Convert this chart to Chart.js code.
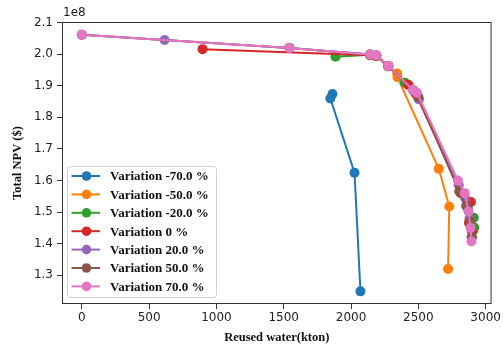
<!DOCTYPE html>
<html>
<head>
<meta charset="utf-8">
<script src="https://cdn.jsdelivr.net/npm/chart.js@4.4.0/dist/chart.umd.min.js"></script>
<style>
  html, body { margin: 0; padding: 0; background: #fff; }
</style>
</head>
<body>
<canvas id="npvChart" width="503" height="347"></canvas>
<script>
// Pareto fronts: reused water (kton) vs total NPV (x 1e8 $)
const seriesLabels = ['Variation -70.0 %', 'Variation -50.0 %', 'Variation -20.0 %', 'Variation 0 %',
                      'Variation 20.0 %', 'Variation 50.0 %', 'Variation 70.0 %'];
const seriesColors = ['#1f77b4', '#ff7f0e', '#2ca02c', '#d62728', '#9467bd', '#8c564b', '#e377c2'];

const waterM70 = [1862, 1846, 2026, 2070];
const npvM70   = [1.874, 1.860, 1.625, 1.249];

const waterM50 = [2142, 2186, 2277, 2343, 2345, 2652, 2730, 2721];
const npvM50   = [1.998, 1.995, 1.962, 1.939, 1.927, 1.637, 1.518, 1.320];

const waterM20 = [1885, 2142, 2186, 2277, 2400, 2500, 2815, 2870, 2912, 2916, 2906];
const npvM20   = [1.992, 1.998, 1.995, 1.962, 1.910, 1.860, 1.560, 1.510, 1.482, 1.451, 1.440];

const waterP0 = [897, 2142, 2186, 2277, 2426, 2480, 2820, 2891, 2876, 2898];
const npvP0   = [2.016, 1.997, 1.994, 1.962, 1.903, 1.875, 1.560, 1.532, 1.466, 1.439];

const waterP20 = [0, 615, 1542, 2142, 2186, 2277, 2461, 2505, 2800, 2849, 2880, 2895];
const npvP20   = [2.062, 2.045, 2.020, 1.999, 1.996, 1.963, 1.885, 1.857, 1.585, 1.543, 1.480, 1.420];

const waterP50 = [0, 1542, 2142, 2190, 2277, 2465, 2500, 2804, 2855, 2885, 2898];
const npvP50   = [2.062, 2.020, 1.999, 1.996, 1.963, 1.885, 1.865, 1.565, 1.520, 1.470, 1.420];

const waterP70 = [0, 1542, 2142, 2186, 2277, 2461, 2490, 2794, 2845, 2873, 2888, 2895];
const npvP70   = [2.062, 2.020, 1.999, 1.997, 1.963, 1.887, 1.878, 1.600, 1.560, 1.502, 1.450, 1.407];

const waterSeries = [waterM70, waterM50, waterM20, waterP0, waterP20, waterP50, waterP70];
const npvSeries   = [npvM70, npvM50, npvM20, npvP0, npvP20, npvP50, npvP70];

const waterTicks = [0, 500, 1000, 1500, 2000, 2500, 3000];
const npvTicks   = [1.3, 1.4, 1.5, 1.6, 1.7, 1.8, 1.9, 2.0, 2.1];

const datasets = seriesLabels.map((label, i) => ({
  label: label,
  data: waterSeries[i].map((x, k) => ({ x: x, y: npvSeries[i][k] })),
  borderColor: seriesColors[i],
  backgroundColor: seriesColors[i],
  borderWidth: 2,
  pointRadius: 5,
  pointBorderWidth: 0,
  showLine: true,
  // later series drawn on top, like the first-to-last plotting order
  order: seriesLabels.length - i,
}));

const serif = '"Liberation Serif", "Times New Roman", serif';

// axes frame, exponent label and the boxed legend in the lower left corner
const framePlugin = {
  id: 'frameLegend',
  afterDraw(chart) {
    const ctx = chart.ctx;
    const a = chart.chartArea;
    ctx.save();
    ctx.strokeStyle = '#333';
    ctx.lineWidth = 1;
    ctx.strokeRect(a.left + 0.5, a.top + 0.5, a.right - a.left - 1, a.bottom - a.top - 1);

    ctx.fillStyle = '#222';
    ctx.font = '12px "DejaVu Sans"';
    ctx.textBaseline = 'bottom';
    ctx.textAlign = 'left';
    ctx.fillText('1e8', a.left + 1, a.top - 3);

    const bx = a.left + 5, by = a.bottom - 138, bw = 149, bh = 131;
    ctx.fillStyle = 'rgba(255,255,255,0.85)';
    ctx.strokeStyle = '#d0d0d0';
    ctx.beginPath();
    ctx.roundRect(bx + 0.5, by + 0.5, bw, bh, 3);
    ctx.fill();
    ctx.stroke();

    ctx.font = 'bold 13px ' + serif;
    ctx.textBaseline = 'middle';
    seriesLabels.forEach((label, i) => {
      const yy = by + 10 + i * 18.4;
      ctx.strokeStyle = seriesColors[i];
      ctx.lineWidth = 2;
      ctx.beginPath();
      ctx.moveTo(bx + 4.5, yy);
      ctx.lineTo(bx + 33, yy);
      ctx.stroke();
      ctx.fillStyle = seriesColors[i];
      ctx.beginPath();
      ctx.arc(bx + 19.5, yy, 4.8, 0, Math.PI * 2);
      ctx.fill();
      ctx.fillStyle = '#111';
      ctx.fillText(label, bx + 43, yy + 1);
    });
    ctx.restore();
  }
};

new Chart(document.getElementById('npvChart'), {
  type: 'scatter',
  data: { datasets: datasets },
  options: {
    responsive: false,
    animation: false,
    layout: { padding: { top: 22, right: 7, left: 0, bottom: 0 } },
    plugins: {
      legend: { display: false },
      tooltip: { enabled: false },
    },
    scales: {
      x: {
        type: 'linear',
        min: -147,
        max: 3044,
        afterBuildTicks: axis => { axis.ticks = waterTicks.map(v => ({ value: v })); },
        afterFit: axis => { axis.height = 43; },
        grid: { drawOnChartArea: false, drawTicks: true, tickLength: 5, tickColor: '#333' },
        border: { display: false },
        ticks: {
          callback: v => String(v),
          font: { family: 'DejaVu Sans', size: 12 },
          color: '#222',
          padding: 2,
          maxRotation: 0,
        },
        title: {
          display: true,
          text: 'Reused water(kton)',
          font: { family: serif, size: 12.5, weight: 'bold' },
          color: '#111',
          padding: { top: 0, bottom: 2 },
        },
      },
      y: {
        type: 'linear',
        min: 1.209,
        max: 2.102,
        afterBuildTicks: axis => { axis.ticks = npvTicks.map(v => ({ value: v })); },
        afterFit: axis => { axis.width = 62; },
        grid: { drawOnChartArea: false, drawTicks: true, tickLength: 5, tickColor: '#333' },
        border: { display: false },
        ticks: {
          callback: v => v.toFixed(1),
          font: { family: 'DejaVu Sans', size: 12 },
          color: '#222',
          padding: 4,
        },
        title: {
          display: true,
          text: 'Total NPV ($)',
          font: { family: serif, size: 12.5, weight: 'bold' },
          color: '#111',
          padding: { top: 10, bottom: 0 },
        },
      },
    },
  },
  plugins: [framePlugin],
});
</script>
</body>
</html>
